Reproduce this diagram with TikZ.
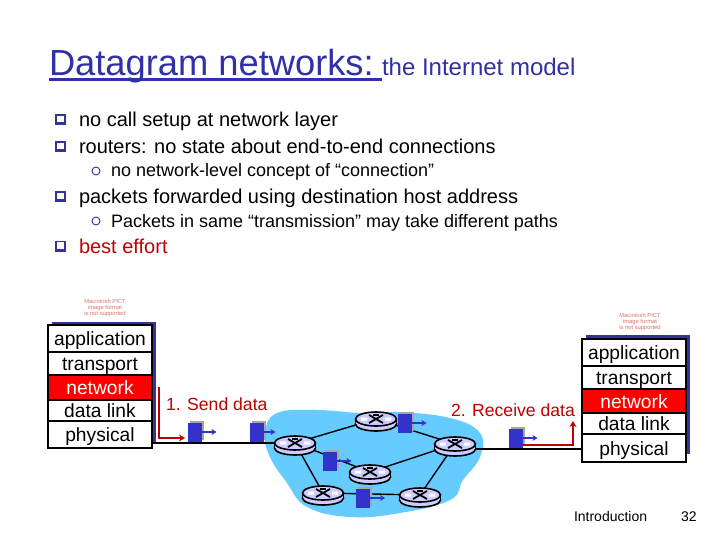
\documentclass[tikz,border=0pt]{standalone}
\usepackage{fontspec}
\setmainfont{Liberation Sans}
\usetikzlibrary{shapes.geometric,arrows.meta}
\pgfdeclarelayer{bg}
\pgfsetlayers{bg,main}
\definecolor{deepblue}{HTML}{3333CC}
\definecolor{titleblue}{HTML}{3030A8}
\definecolor{shadeblue}{HTML}{333399}
\definecolor{cloudblue}{HTML}{66CCFF}
\definecolor{lilac}{HTML}{CCCCFF}
\definecolor{redtext}{HTML}{C00000}
\definecolor{macred}{HTML}{D87070}
\newcommand{\fs}[1]{\fontsize{#1}{#1}\selectfont}
\tikzset{
  txt/.style={anchor=base west,inner sep=0pt,outer sep=0pt},
  line/.style={txt,font=\fs{20}},
  subline/.style={txt,font=\fs{18}},
  layerbox/.style={draw=black,line width=1.6pt,fill=white,minimum width=104pt,inner sep=0pt,font=\fs{19.2},text height=16pt,text depth=2pt},
  netbox/.style={layerbox,fill=red,text=white},
  macnote/.style={inner sep=0pt,align=center,text=macred,font=\fs{5.8}},
  topell/.style={ellipse,draw=black,line width=1.6pt,fill=lilac,minimum width=41pt,minimum height=14pt,inner sep=0pt},
  botell/.style={ellipse,draw=black,line width=1.6pt,fill=lilac,minimum width=41pt,minimum height=14pt,inner sep=0pt},
  wire/.style={draw=black,line width=1.4pt},
  pktbox/.style={fill=deepblue,draw=none,minimum width=14pt,minimum height=19pt,inner sep=0pt},
  pktshade/.style={fill=gray!70,draw=none,minimum width=14pt,minimum height=19pt,inner sep=0pt},
  pktarrow/.style={draw=deepblue,line width=1.2pt,-{Stealth[length=5pt,width=6pt]}},
  redarrow/.style={draw=redtext,line width=1.8pt,-{Stealth[length=6pt,width=7pt]}},
  lab/.style={txt,text=redtext,font=\fs{17.6}},
}
\newcommand{\sqbullet}[2]{%
  \fill[shadeblue] (#1-5.5,#2-5.5) rectangle (#1+5.5,#2+5.5);
  \fill[white] (#1-3.5,#2-3.8) rectangle (#1+3.5,#2+2.5);
}
\newcommand{\cbullet}[2]{\draw[shadeblue,line width=.9pt] (#1,#2) circle[radius=4pt];}
\newcommand{\routernode}[3]{%
  \node[botell] (#1b) at (#2,#3+5) {};
  \fill[lilac] (#2-20.5,#3) rectangle (#2+20.5,#3+5);
  \draw[black,line width=1.6pt] (#2-20.5,#3) -- (#2-20.5,#3+5) (#2+20.5,#3) -- (#2+20.5,#3+5);
  \node[topell] (#1) at (#2,#3) {};
  \draw[black,line width=1.8pt] (#2-7,#3-4) -- (#2+7,#3+4) (#2-7,#3+4) -- (#2+7,#3-4);
  \fill[white] (#2-15,#3-1.5) rectangle (#2-9,#3+1.5) (#2+9,#3-1.5) rectangle (#2+15,#3+1.5);
  \fill[black] (#2-3,#3-5.5) rectangle (#2+3,#3-3.5);
}
\newcommand{\packet}[4]{%
  \node[pktshade] (#1s) at (#2+2,#3-2) {};
  \node[pktbox] (#1) at (#2,#3) {};
  \coordinate (#1t) at (#2+7+#4,#3);
  \draw[pktarrow] (#1.east) -- (#1t);
}
\begin{document}
\begin{tikzpicture}[x=1pt,y=-1pt]
\useasboundingbox (0,0) rectangle (720,540);
\begin{pgfonlayer}{bg}
\fill[white] (0,0) rectangle (720,540);
\end{pgfonlayer}

% title
\node[txt,text=titleblue,font=\fs{36.3}] (title) at (49,76) {Datagram networks:};
\node[txt,text=titleblue,font=\fs{24}] (subtitle) at (382,76) {the Internet model};
\coordinate (ulA) at (49,80);
\coordinate (ulB) at (382,80);
\draw[titleblue,line width=3pt] (ulA) -- (ulB);

% bullets
\sqbullet{60.5}{120}
\node[line] (t1) at (79,127) {no call setup at network layer};
\sqbullet{60.5}{147}
\node[line] (t2) at (79,154) {routers: no state about end-to-end connections};
\cbullet{96}{171}
\node[subline] (t3) at (111,177) {no network-level concept of “connection”};
\sqbullet{60.5}{197}
\node[line] (t4) at (79,204) {packets forwarded using destination host address};
\cbullet{96}{221}
\node[subline] (t5) at (111,227) {Packets in same “transmission” may take different paths};
\sqbullet{60.5}{246}
\node[line,text=redtext] (t6) at (79,253) {best effort};

% mac notes
\node[macnote] (mac1) at (105,308) {Macintosh PICT\\image format\\is not supported};
\node[macnote] (mac2) at (640,322) {Macintosh PICT\\image format\\is not supported};

% left stack
\fill[shadeblue] (52,322) rectangle (156,442);
\node[layerbox,minimum height=27pt] (la) at (100,338.5) {application};
\node[layerbox,minimum height=23pt] (lt) at (100,363.5) {transport};
\node[netbox,minimum height=25pt] (ln) at (100,387.5) {network};
\node[layerbox,minimum height=21pt] (ld) at (100,410.5) {data link};
\node[layerbox,minimum height=27pt] (lp) at (100,434.5) {physical};

% right stack
\fill[shadeblue] (586,335) rectangle (690,454);
\node[layerbox,minimum height=27pt] (ra) at (634,352.5) {application};
\node[layerbox,minimum height=23pt] (rt) at (634,377.5) {transport};
\node[netbox,minimum height=24pt] (rn) at (634,401) {network};
\node[layerbox,minimum height=21pt] (rd) at (634,423.5) {data link};
\node[layerbox,minimum height=28pt] (rp) at (634,448) {physical};

% routers
\routernode{r1}{295}{443}
\routernode{r2}{376}{419}
\routernode{r3}{455}{444}
\routernode{r4}{370}{472}
\routernode{r5}{323}{493}
\routernode{r6}{420}{495}

% packets
\packet{p1}{194.5}{432}{15}
\packet{p2}{256.5}{432}{12}
\packet{p3}{329.5}{461}{15}
\packet{p4}{404.5}{423}{15}
\packet{p5}{363}{498}{15}
\packet{p6}{515.5}{438}{15}

% cloud and links
\begin{pgfonlayer}{bg}
\fill[cloudblue] plot[smooth cycle,tension=0.7] coordinates {
 (265,433) (277,413) (317,410) (360,413) (397,412) (450,418) (480,433)
 (480,457) (463,480) (450,500) (400,513) (350,517) (307,507) (287,483) (270,457)};
\draw[wire] (lp.east |- r1.center) -- (r1.center);
\draw[wire] (r3b.center) -- (rp.west |- r3b.center);
\draw[wire] (r1.center) -- (r2.center);
\draw[wire] (r1.center) -- (r4.center);
\draw[wire] (r1.center) -- (r5.center);
\draw[wire] (r2.center) -- (r3.center);
\draw[wire] (r4.center) -- (r3.center);
\draw[wire] (r5.center) -- (r6.center);
\draw[wire] (r6.center) -- (r3.center);
\end{pgfonlayer}

% red arrows
\coordinate (a1) at (159,387);
\coordinate (a2) at (159,438);
\coordinate (a3) at (185,438);
\draw[redarrow] (a1) -- (a2) -- (a3);
\coordinate (b1) at (523,445);
\coordinate (b2) at (573,445);
\coordinate (b3) at (573,421);
\draw[redarrow] (b1) -- (b2) -- (b3);

% labels
\node[lab] (send) at (166,410) {1. Send data};
\node[lab] (recv) at (451,416) {2. Receive data};
\node[txt,font=\fs{14}] (intro) at (574,521) {Introduction};
\node[txt,font=\fs{14}] (num) at (681,521) {32};
\end{tikzpicture}
\end{document}
